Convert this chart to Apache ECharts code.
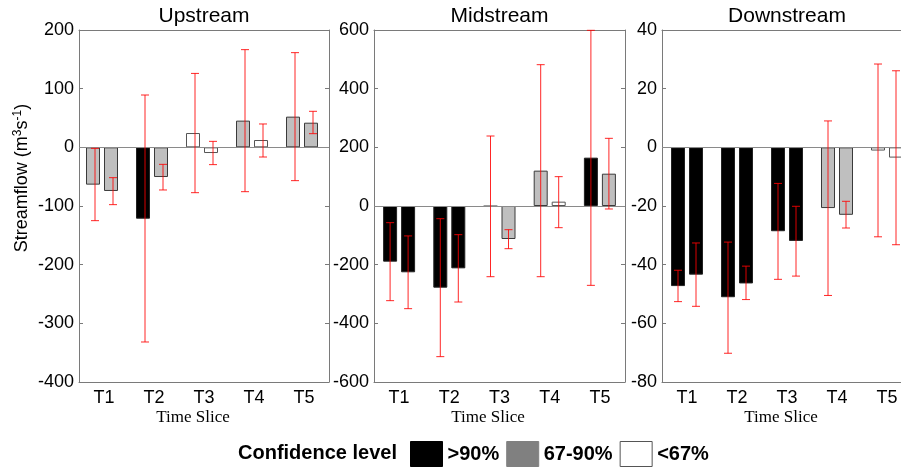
<!DOCTYPE html>
<html>
<head>
<meta charset="utf-8">
<script src="https://cdn.jsdelivr.net/npm/echarts@6/dist/echarts.min.js"></script>
<style>html,body{margin:0;padding:0;background:#fff}#c{width:901px;height:470px}</style>
</head>
<body>
<div id="c"></div>
<script>
// ---- data ----
const categories = ['T1', 'T2', 'T3', 'T4', 'T5'];
const panelTitles = ['Upstream', 'Midstream', 'Downstream'];
const yMins = [-400, -600, -80];
const yMaxs = [200, 600, 40];
const yIntervals = [100, 200, 20];
// confidence: 'H' = >90%, 'M' = 67-90%, 'L' = <67%
const upBar1 = [-63.6, -121.6, 24.4, 45.5, 52.3];
const upBar2 = [-74.4, -50.6, -9.7, 12.5, 42.0];
const upConf1 = ['M', 'H', 'L', 'M', 'M'];
const upConf2 = ['M', 'M', 'L', 'L', 'M'];
const upErr1Low = [-125, -331.8, -77.3, -75.6, -56.8];
const upErr1High = [-1.7, 89.2, 126, 166.5, 161.4];
const upErr2Low = [-97.7, -72.7, -29.5, -16.5, 23.3];
const upErr2High = [-51.7, -29, 10.2, 39.8, 61.4];

const midBar1 = [-189.8, -278.4, -1, 120.5, 164.8];
const midBar2 = [-226, -212.5, -112.5, 14.8, 110.2];
const midConf1 = ['H', 'H', 'L', 'M', 'H'];
const midConf2 = ['H', 'H', 'M', 'L', 'M'];
const midErr1Low = [-322.7, -513.6, -241, -241, -270.5];
const midErr1High = [-56.8, -43.2, 238.6, 481.8, 598.9];
const midErr2Low = [-350, -327.3, -145.5, -73.9, -10.2];
const midErr2High = [-102, -97.7, -80.7, 100, 230.7];

const downBar1 = [-47.3, -51.1, -28.6, -20.7, -1.1];
const downBar2 = [-43.4, -46.4, -31.9, -23.0, -3.5];
const downConf1 = ['H', 'H', 'H', 'M', 'L'];
const downConf2 = ['H', 'H', 'H', 'M', 'L'];
const downErr1Low = [-52.6, -70.2, -45, -50.5, -30.5];
const downErr1High = [-41.9, -32.3, -12.3, 9.0, 28.4];
const downErr2Low = [-54.2, -51.9, -43.9, -27.5, -33.2];
const downErr2High = [-32.6, -40.5, -20.1, -18.4, 26.1];

const legendNames = ['>90%', '67-90%', '<67%'];

// ---- styling / layout ----
const FONT = 'Liberation Sans, Arial, sans-serif';
const SERIF = 'Liberation Serif, Times New Roman, serif';
const AXIS = '#7a7a7a';
const confFill = { H: '#000000', M: '#bfbfbf', L: '#ffffff' };
const confBorder = { H: '#222222', M: '#3a3a3a', L: '#555555' };
const legendFill = { '>90%': '#000000', '67-90%': '#808080', '<67%': '#ffffff' };
const legendBorder = { '>90%': '#000000', '67-90%': '#808080', '<67%': '#555555' };
const BAR_W = 14, BAR_GAP = 4;
const grids = [
  { left: 79, top: 30, width: 250, bottom: 88, outerBoundsMode: 'none', containLabel: false },
  { left: 374, top: 30, width: 251, bottom: 88, outerBoundsMode: 'none', containLabel: false },
  { left: 662, top: 30, width: 250, bottom: 88, outerBoundsMode: 'none', containLabel: false }
];
const panelCenters = [204, 499.5, 787];

const panelData = [
  { b1: upBar1, b2: upBar2, c1: upConf1, c2: upConf2, l1: upErr1Low, h1: upErr1High, l2: upErr2Low, h2: upErr2High },
  { b1: midBar1, b2: midBar2, c1: midConf1, c2: midConf2, l1: midErr1Low, h1: midErr1High, l2: midErr2Low, h2: midErr2High },
  { b1: downBar1, b2: downBar2, c1: downConf1, c2: downConf2, l1: downErr1Low, h1: downErr1High, l2: downErr2Low, h2: downErr2High }
];

const xAxes = [], yAxes = [], series = [], titles = [];
panelData.forEach((p, i) => {
  xAxes.push({
    gridIndex: i, type: 'category', data: categories, position: 'bottom', boundaryGap: true,
    axisLine: { onZero: false, lineStyle: { color: AXIS, width: 1 } },
    axisTick: { inside: true, alignWithLabel: true, length: 4, lineStyle: { color: AXIS } },
    axisLabel: { fontFamily: FONT, fontSize: 18, color: '#000', margin: 7 },
    splitLine: { show: false }
  });
  xAxes.push({
    gridIndex: i, type: 'category', data: categories, position: 'top', boundaryGap: true,
    axisLine: { onZero: false, lineStyle: { color: AXIS, width: 1 } },
    axisTick: { inside: true, alignWithLabel: true, length: 4, lineStyle: { color: AXIS } },
    axisLabel: { show: false }, splitLine: { show: false }
  });
  yAxes.push({
    gridIndex: i, type: 'value', position: 'left', min: yMins[i], max: yMaxs[i], interval: yIntervals[i],
    axisLine: { show: true, onZero: false, lineStyle: { color: AXIS, width: 1 } },
    axisTick: { show: true, inside: true, length: 4, lineStyle: { color: AXIS } },
    axisLabel: { fontFamily: FONT, fontSize: 18, color: '#000', margin: 5 },
    splitLine: { show: false }
  });
  yAxes.push({
    gridIndex: i, type: 'value', position: 'right', min: yMins[i], max: yMaxs[i], interval: yIntervals[i],
    axisLine: { show: true, onZero: false, lineStyle: { color: AXIS, width: 1 } },
    axisTick: { show: true, inside: true, length: 4, lineStyle: { color: AXIS } },
    axisLabel: { show: false }, splitLine: { show: false }
  });
  const xi = i * 2, yi = i * 2;
  const mkBar = (vals, confs, withLine) => ({
    type: 'bar', xAxisIndex: xi, yAxisIndex: yi, barWidth: BAR_W, barGap: (BAR_GAP / BAR_W * 100) + '%',
    data: vals.map((v, k) => ({ value: v, itemStyle: { color: confFill[confs[k]], borderColor: confBorder[confs[k]], borderWidth: 1 } })),
    silent: true, z: 2,
    markLine: withLine ? { silent: true, symbol: 'none', label: { show: false },
      lineStyle: { color: '#8a8a8a', width: 1, type: 'solid' }, data: [{ yAxis: 0 }], z: 3 } : undefined
  });
  series.push(mkBar(p.b1, p.c1, true));
  series.push(mkBar(p.b2, p.c2, false));
  const mkErr = (lows, highs, dir) => ({
    type: 'custom', xAxisIndex: xi, yAxisIndex: yi, z: 5, silent: true,
    encode: { x: 0, y: [1, 2] },
    data: lows.map((lo, k) => [k, lo, highs[k]]),
    renderItem: function (params, api) {
      const x = api.coord([api.value(0), 0])[0] + dir * (BAR_W + BAR_GAP) / 2;
      const yLo = api.coord([api.value(0), api.value(1)])[1];
      const yHi = api.coord([api.value(0), api.value(2)])[1];
      const cap = 4;
      const st = { stroke: 'rgba(255,0,0,0.85)', lineWidth: 1 };
      return { type: 'group', children: [
        { type: 'line', shape: { x1: x, y1: yLo, x2: x, y2: yHi }, style: st },
        { type: 'line', shape: { x1: x - cap, y1: yLo, x2: x + cap, y2: yLo }, style: st },
        { type: 'line', shape: { x1: x - cap, y1: yHi, x2: x + cap, y2: yHi }, style: st }
      ] };
    }
  });
  series.push(mkErr(p.l1, p.h1, -1));
  series.push(mkErr(p.l2, p.h2, 1));
  titles.push({
    text: panelTitles[i], left: panelCenters[i], top: 6, textAlign: 'center', padding: 0,
    textStyle: { fontFamily: FONT, fontSize: 21, fontWeight: 'normal', color: '#000' }
  });
});

// dummy series for legend
legendNames.forEach(n => {
  series.push({ type: 'bar', name: n, xAxisIndex: 0, yAxisIndex: 0, data: [],
    itemStyle: { color: legendFill[n], borderColor: legendBorder[n], borderWidth: 1 } });
});

const option = {
  animation: false,
  backgroundColor: '#fff',
  title: titles,
  grid: grids,
  xAxis: xAxes,
  yAxis: yAxes,
  series: series,
  legend: {
    left: 410, top: 441, itemWidth: 32, itemHeight: 25, itemGap: 7, icon: 'rect', padding: 0,
    selectedMode: false,
    data: legendNames.map(n => ({ name: n, itemStyle: { color: legendFill[n], borderColor: legendBorder[n], borderWidth: 1 } })),
    textStyle: { fontFamily: FONT, fontSize: 20, fontWeight: 'bold', color: '#000' }
  },
  graphic: [
    { type: 'text', left: 238, top: 443, style: { text: 'Confidence level', font: 'bold 20px ' + FONT, fill: '#000' } },
    { type: 'text', x: 22, y: 178, rotation: Math.PI / 2,
      style: { text: 'Streamflow (m{sup|3}s{sup|-1})', fill: '#000', font: '18px ' + FONT, align: 'center', verticalAlign: 'middle',
        rich: { sup: { fontSize: 12, fontFamily: FONT, verticalAlign: 'top', padding: [0, 0, 8, 0] } } } },
    { type: 'text', x: 193, y: 418, style: { text: 'Time Slice', font: '17px ' + SERIF, fill: '#000', align: 'center', verticalAlign: 'middle' } },
    { type: 'text', x: 488, y: 418, style: { text: 'Time Slice', font: '17px ' + SERIF, fill: '#000', align: 'center', verticalAlign: 'middle' } },
    { type: 'text', x: 781, y: 418, style: { text: 'Time Slice', font: '17px ' + SERIF, fill: '#000', align: 'center', verticalAlign: 'middle' } }
  ]
};
const chart = echarts.init(document.getElementById('c'), null, { renderer: 'canvas' });
chart.setOption(option);
</script>
</body>
</html>
